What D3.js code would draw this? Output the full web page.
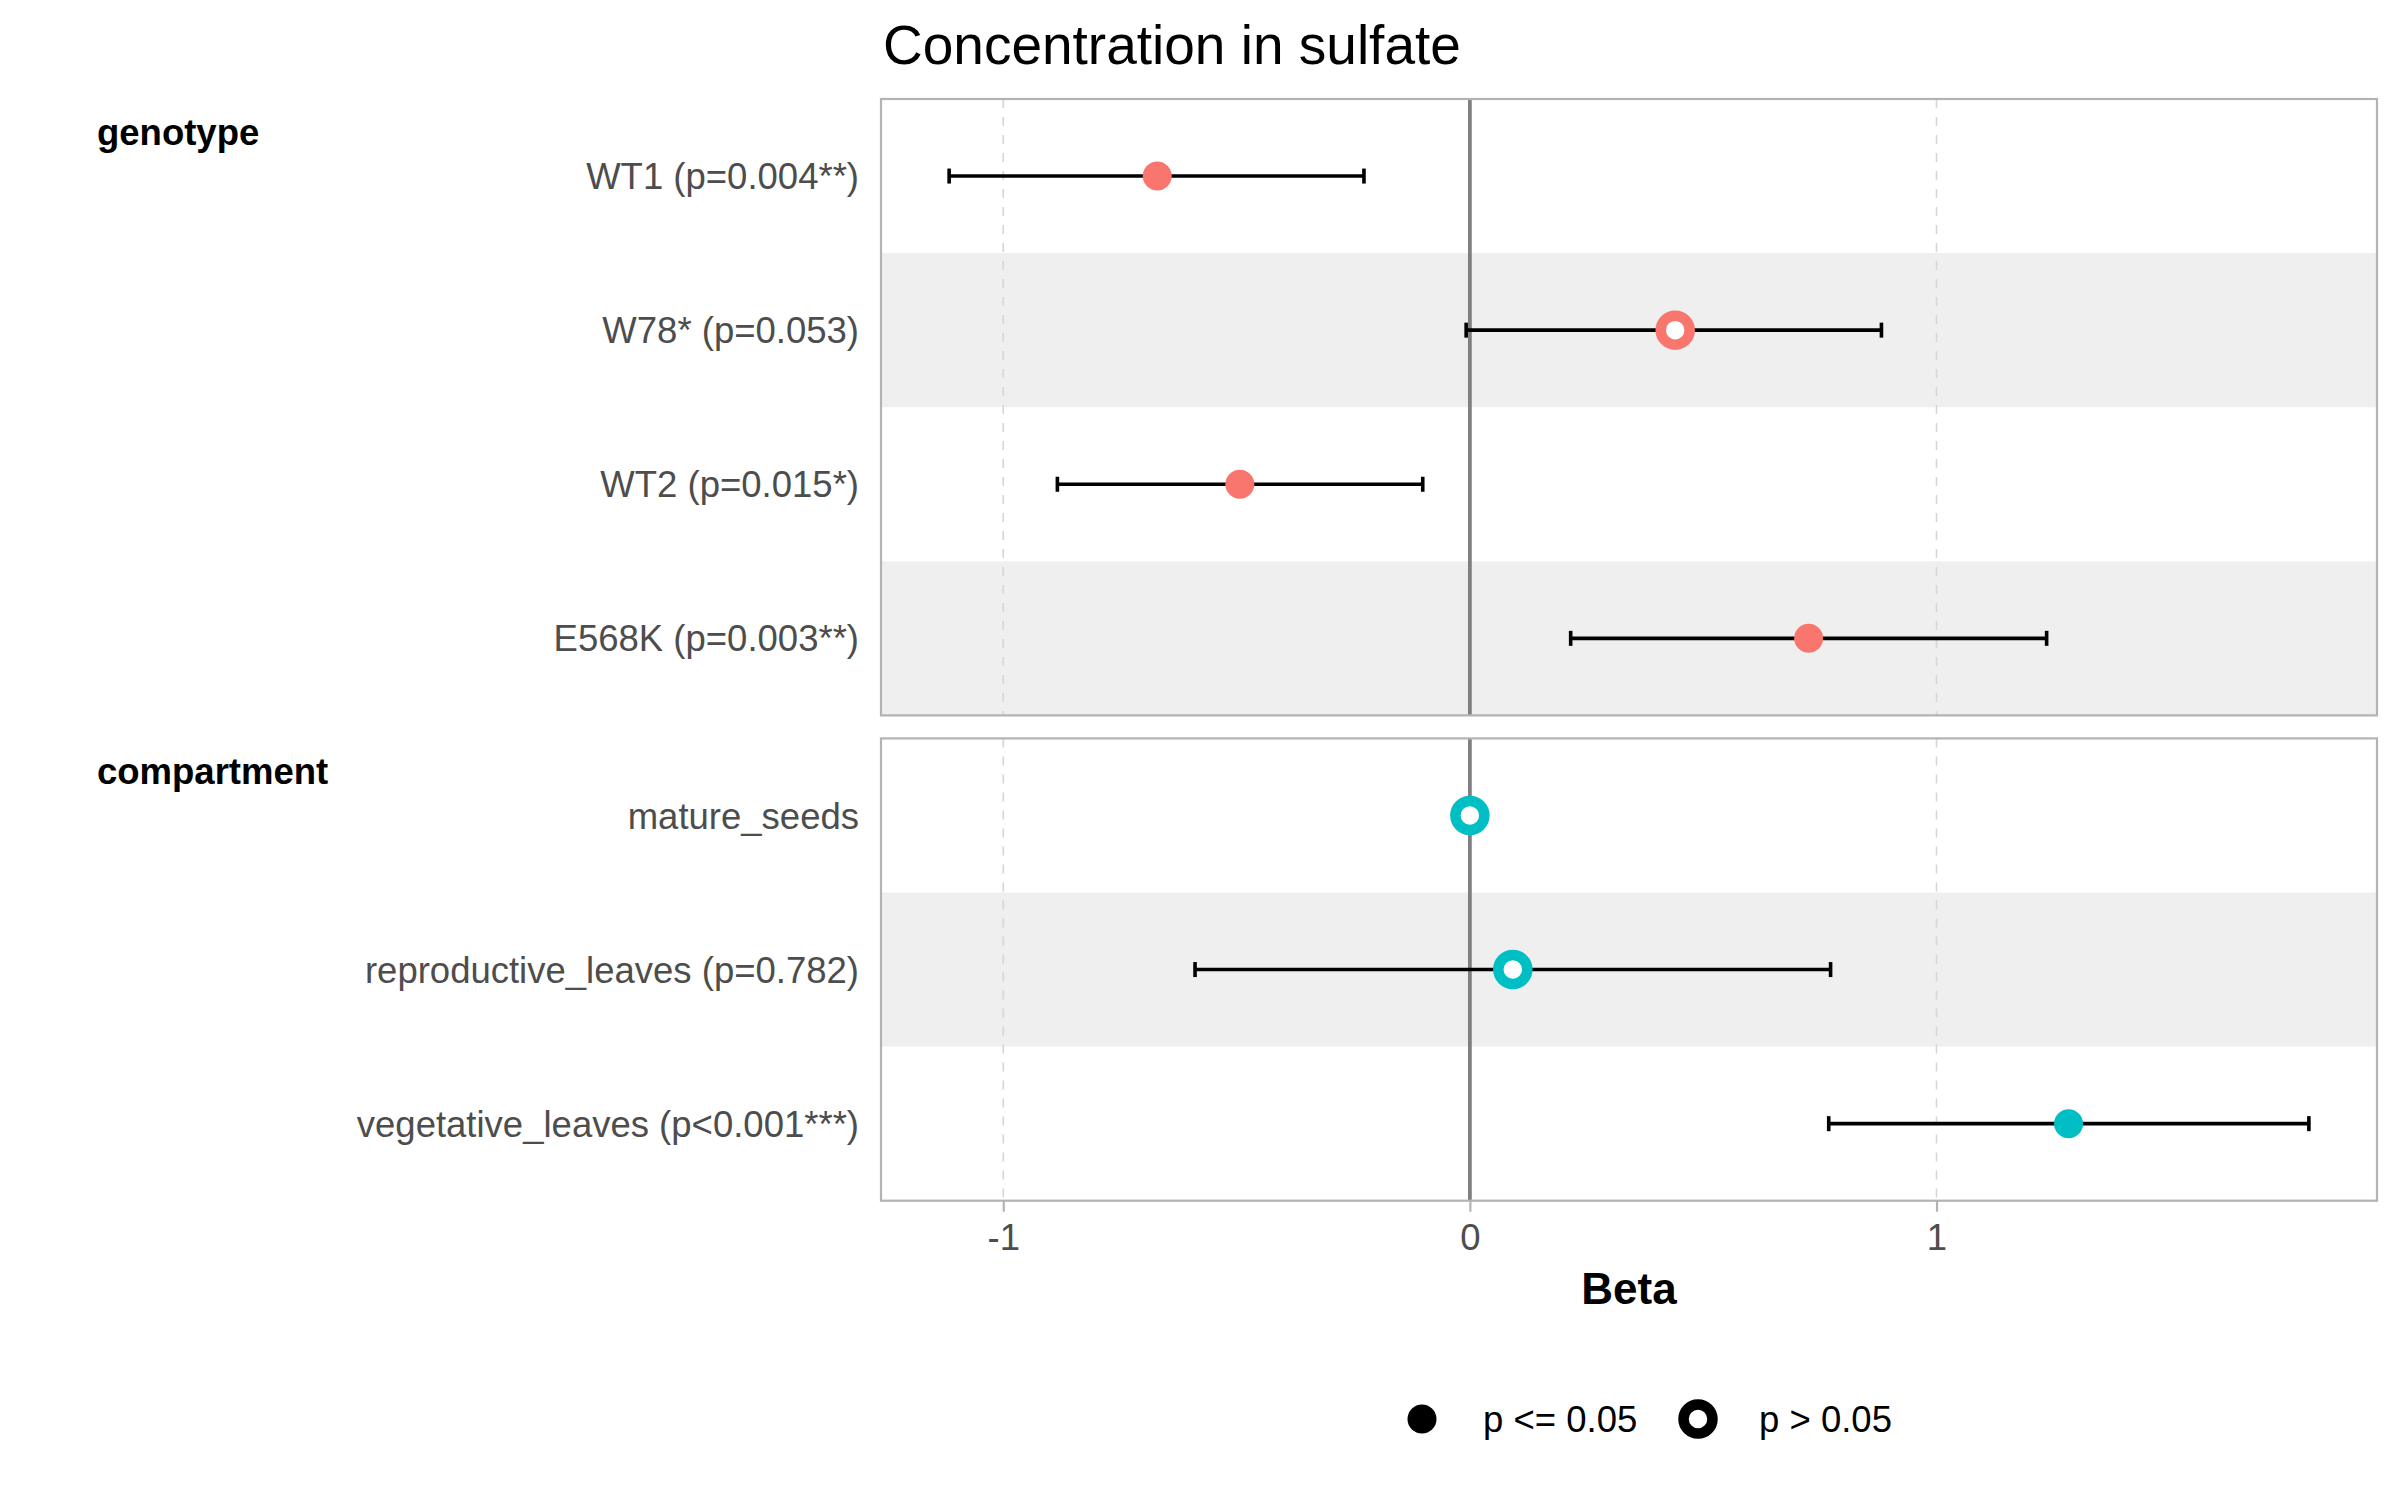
<!DOCTYPE html>
<html>
<head>
<meta charset="utf-8">
<script src="https://cdn.jsdelivr.net/npm/d3@7"></script>
<style>
  html, body { margin: 0; padding: 0; background: #fff; }
  svg { display: block; font-family: "Liberation Sans", Arial, sans-serif; }
</style>
</head>
<body>
<svg id="chart" width="2400" height="1500"></svg>
<script>
// ---- data ----
const groupNames = ["genotype", "compartment"];
const genotypeLabels = ["WT1 (p=0.004**)", "W78* (p=0.053)", "WT2 (p=0.015*)", "E568K (p=0.003**)"];
const genotypeEstimate = [-0.670, 0.440, -0.493, 0.726];
const genotypeLow = [-1.116, -0.008, -0.884, 0.216];
const genotypeHigh = [-0.227, 0.882, -0.101, 1.236];
const genotypeSignificant = [true, false, true, true];

const compartmentLabels = ["mature_seeds", "reproductive_leaves (p=0.782)", "vegetative_leaves (p<0.001***)"];
const compartmentEstimate = [0, 0.092, 1.283];
const compartmentLow = [null, -0.589, 0.769];
const compartmentHigh = [null, 0.773, 1.798];
const compartmentSignificant = [false, false, true];

const groupColors = ["#F8766D", "#00BFC4"];
const xTicks = [-1, 0, 1];
const xTickLabels = ["-1", "0", "1"];
const legendLabels = ["p <= 0.05", "p > 0.05"];
const chartTitle = "Concentration in sulfate";
const xTitle = "Beta";

// ---- layout ----
const svg = d3.select("#chart");
const panelLeft = 881, panelRight = 2377;
const rowH = 154.1;
const panelTops = [99, 99 + 4 * rowH + 23];

const x = d3.scaleLinear().domain([-1.262, 1.944]).range([panelLeft, panelRight]);

const groups = [
  { name: groupNames[0], labels: genotypeLabels, est: genotypeEstimate, lo: genotypeLow, hi: genotypeHigh, sig: genotypeSignificant, color: groupColors[0] },
  { name: groupNames[1], labels: compartmentLabels, est: compartmentEstimate, lo: compartmentLow, hi: compartmentHigh, sig: compartmentSignificant, color: groupColors[1] }
];

// title
svg.append("text").attr("x", 883).attr("y", 64)
  .attr("font-size", 55).attr("fill", "#000").text(chartTitle);

groups.forEach((g, gi) => {
  const top = panelTops[gi];
  const n = g.labels.length;
  const bottom = top + n * rowH;
  const y = d3.scaleBand().domain(g.labels).range([top, bottom]).padding(0);
  const rows = g.labels.map((lab, i) => ({ lab, i, est: g.est[i], lo: g.lo[i], hi: g.hi[i], sig: g.sig[i] }));
  const gp = svg.append("g");

  // alternating bands
  gp.selectAll("rect.band").data(rows.filter(d => d.i % 2 === 1)).join("rect")
    .attr("x", panelLeft).attr("width", panelRight - panelLeft)
    .attr("y", d => y(d.lab)).attr("height", y.bandwidth())
    .attr("fill", "#EFEFEF");

  // dashed grid
  gp.selectAll("line.grid").data(xTicks.filter(t => t !== 0)).join("line")
    .attr("x1", d => x(d)).attr("x2", d => x(d))
    .attr("y1", top).attr("y2", bottom)
    .attr("stroke", "#d6d6d6").attr("stroke-width", 1.6)
    .attr("stroke-dasharray", "9,9");

  // zero line
  gp.append("line").attr("x1", x(0)).attr("x2", x(0)).attr("y1", top).attr("y2", bottom)
    .attr("stroke", "#808080").attr("stroke-width", 3.8);

  // error bars
  const eb = rows.filter(d => d.lo !== null && d.hi !== null);
  const cy = d => y(d.lab) + y.bandwidth() / 2;
  gp.selectAll("line.err").data(eb).join("line")
    .attr("x1", d => x(d.lo)).attr("x2", d => x(d.hi))
    .attr("y1", cy).attr("y2", cy)
    .attr("stroke", "#000").attr("stroke-width", 3.6);
  ["lo", "hi"].forEach(k => {
    gp.selectAll("line.cap" + k).data(eb).join("line")
      .attr("x1", d => x(d[k])).attr("x2", d => x(d[k]))
      .attr("y1", d => cy(d) - 7.5).attr("y2", d => cy(d) + 7.5)
      .attr("stroke", "#000").attr("stroke-width", 3.6);
  });

  // points
  gp.selectAll("circle.pt").data(rows).join("circle")
    .attr("cx", d => x(d.est)).attr("cy", cy)
    .attr("r", 14.5)
    .attr("fill", d => d.sig ? g.color : "#fff")
    .attr("stroke", d => d.sig ? "none" : g.color)
    .attr("stroke-width", d => d.sig ? 0 : 10.5);

  // panel border
  gp.append("rect").attr("x", panelLeft).attr("y", top)
    .attr("width", panelRight - panelLeft).attr("height", bottom - top)
    .attr("fill", "none").attr("stroke", "#b3b3b3").attr("stroke-width", 2.2);

  // y labels
  gp.selectAll("text.ylab").data(rows).join("text")
    .attr("x", 859).attr("y", cy).attr("dy", "0.36em")
    .attr("text-anchor", "end").attr("font-size", 36.5).attr("fill", "#4D4D4D")
    .text(d => d.lab);

  // group label
  gp.append("text").attr("x", 97).attr("y", top + 46)
    .attr("font-size", 36.5).attr("font-weight", "bold").attr("fill", "#000")
    .text(g.name);

  // x axis on last panel
  if (gi === groups.length - 1) {
    const ax = svg.append("g").attr("transform", `translate(0,${bottom})`)
      .call(d3.axisBottom(x).tickValues(xTicks).tickSize(11).tickPadding(12)
        .tickFormat((d, i) => xTickLabels[i]));
    ax.select(".domain").remove();
    ax.selectAll(".tick line").attr("stroke", "#b3b3b3").attr("stroke-width", 2.2);
    ax.selectAll(".tick text").attr("font-size", 36.5).attr("fill", "#4D4D4D")
      .attr("font-family", "'Liberation Sans', Arial, sans-serif");
    svg.append("text").attr("x", (panelLeft + panelRight) / 2).attr("y", 1304)
      .attr("text-anchor", "middle").attr("font-size", 44).attr("font-weight", "bold")
      .attr("fill", "#000").text(xTitle);
  }
});

// legend
const legendX = [1422, 1698];
const legendY = 1419;
const lg = svg.append("g");
lg.selectAll("circle").data(legendLabels).join("circle")
  .attr("cx", (d, i) => legendX[i]).attr("cy", legendY)
  .attr("r", 14.5)
  .attr("fill", (d, i) => i === 0 ? "#000" : "#fff")
  .attr("stroke", (d, i) => i === 0 ? "none" : "#000")
  .attr("stroke-width", (d, i) => i === 0 ? 0 : 10.5);
lg.selectAll("text").data(legendLabels).join("text")
  .attr("x", (d, i) => legendX[i] + 61).attr("y", legendY + 13)
  .attr("font-size", 36.5).attr("fill", "#000").text(d => d);
</script>
</body>
</html>
